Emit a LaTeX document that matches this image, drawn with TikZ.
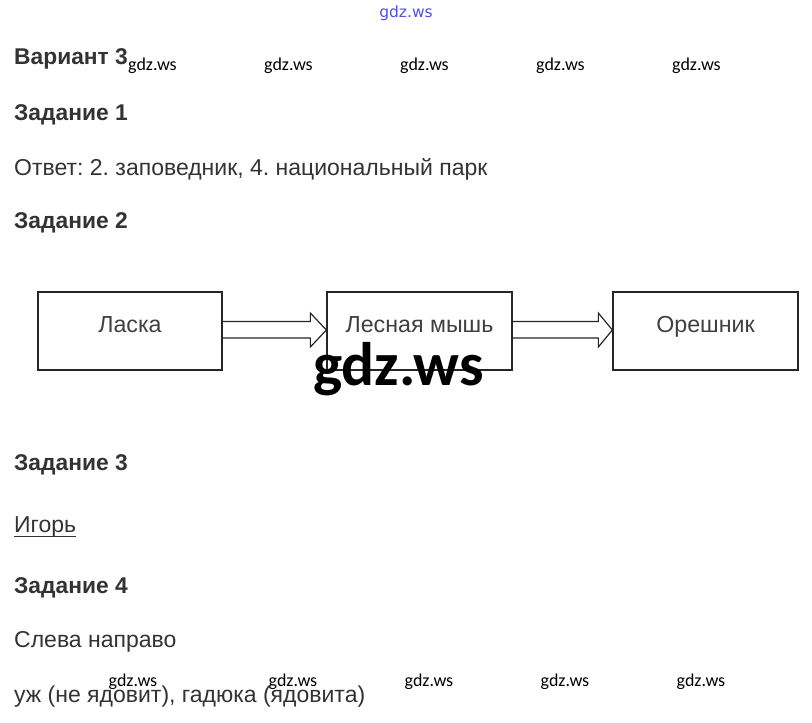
\documentclass[tikz,border=0pt]{standalone}
\usepackage{fontspec}
\setmainfont{Liberation Sans}
\newfontfamily\wmfont{Carlito}
\newfontfamily\wmbluefont{DejaVu Sans}
\usetikzlibrary{calc}
\definecolor{txt}{HTML}{333333}
\definecolor{boxtxt}{HTML}{404040}
\definecolor{wmb}{RGB}{80,80,225}
\frenchspacing
\begin{document}
\begin{tikzpicture}[x=1pt,y=-1pt,
  heading/.style={anchor=base west, inner sep=0pt, text=txt, font=\fontsize{22.8}{27}\selectfont\bfseries},
  body/.style={anchor=base west, inner sep=0pt, text=txt, font=\fontsize{23}{27}\selectfont},
  chainbox/.style={draw=black!85, line width=1.3pt, minimum width=185pt, minimum height=78pt, inner sep=0pt},
  boxlabel/.style={anchor=base, inner sep=0pt, text=boxtxt, font=\fontsize{23.2}{27}\selectfont},
  wm/.style={anchor=base, inner sep=0pt, text=black, font=\wmfont\fontsize{18}{20}\selectfont},
  bigwm/.style={anchor=base, inner sep=0pt, text=black, font=\wmfont\bfseries\fontsize{61.5}{66}\selectfont},
  bluewm/.style={anchor=base, inner sep=0pt, text=wmb, font=\wmbluefont\fontsize{15.5}{18}\selectfont},
  blockarrow/.style={draw=black!85, line width=1.2pt, fill=white, line join=miter},
]
\useasboundingbox[fill=white] (0,0) rectangle (812,723);

% top blue watermark
\node[bluewm] (wmtop) at (406,17) {gdz.ws};

% headings and texts
\node[heading] (var) at (14,64.5) {Вариант 3};
\node[heading] (z1) at (14,120) {Задание 1};
\node[body] (ans) at (14,175.5) {Ответ: 2. заповедник, 4. национальный парк};
\node[heading] (z2) at (14,228.5) {Задание 2};
\node[heading] (z3) at (14,470.5) {Задание 3};
\node[body] (igor) at (14,532) {Игорь};
\draw[txt, line width=1.3pt] ($(igor.base west)+(0,4.5)$) -- ($(igor.base east)+(0,4.5)$);
\node[heading] (z4) at (14,593) {Задание 4};
\node[body] (sleva) at (14,647.5) {Слева направо};
\node[body] (uzh) at (14,702) {уж (не ядовит), гадюка (ядовита)};

% food chain
\coordinate (c1) at (130,331);
\coordinate (c2) at (419.5,331);
\coordinate (c3) at (705.5,331);

\node[chainbox, minimum width=184pt] (b1) at (c1) {};
\node[chainbox] (b2) at (c2) {};
\node[chainbox] (b3) at (c3) {};

\draw[blockarrow] ($(b1.east)+(0,-9.5)$) -- ($(b2.west)+(-16,-9.5)$) -- ($(b2.west)+(-16,-18)$)
  -- ($(b2.west)+(0,-1)$) -- ($(b2.west)+(-16,16)$) -- ($(b2.west)+(-16,7)$) -- ($(b1.east)+(0,7)$);
\draw[blockarrow] ($(b2.east)+(0,-9.5)$) -- ($(b3.west)+(-14,-9.5)$) -- ($(b3.west)+(-14,-18)$)
  -- ($(b3.west)+(0,-1)$) -- ($(b3.west)+(-14,16)$) -- ($(b3.west)+(-14,7)$) -- ($(b2.east)+(0,7)$);

\draw[draw=black!85, line width=1.3pt] (b1.north west) rectangle (b1.south east);
\draw[draw=black!85, line width=1.3pt] (b2.north west) rectangle (b2.south east);
\draw[draw=black!85, line width=1.3pt] (b3.north west) rectangle (b3.south east);

\node[boxlabel] (l1) at ($(b1.center)+(0,1)$) {Ласка};
\node[boxlabel] (l2) at ($(b2.center)+(0,1)$) {Лесная мышь};
\node[boxlabel] (l3) at ($(b3.center)+(0,1)$) {Орешник};

% watermarks
\node[wm] (w1) at (152.5,70) {gdz.ws};
\node[wm] (w2) at (288.5,70) {gdz.ws};
\node[wm] (w3) at (424.5,70) {gdz.ws};
\node[wm] (w4) at (560.5,70) {gdz.ws};
\node[wm] (w5) at (696.5,70) {gdz.ws};

\node[bigwm] (wbig) at (398.5,385) {gdz.ws};

\node[wm] (w6) at (133,686) {gdz.ws};
\node[wm] (w7) at (293,686) {gdz.ws};
\node[wm] (w8) at (429,686) {gdz.ws};
\node[wm] (w9) at (565,686) {gdz.ws};
\node[wm] (w10) at (701,686) {gdz.ws};
\end{tikzpicture}
\end{document}
